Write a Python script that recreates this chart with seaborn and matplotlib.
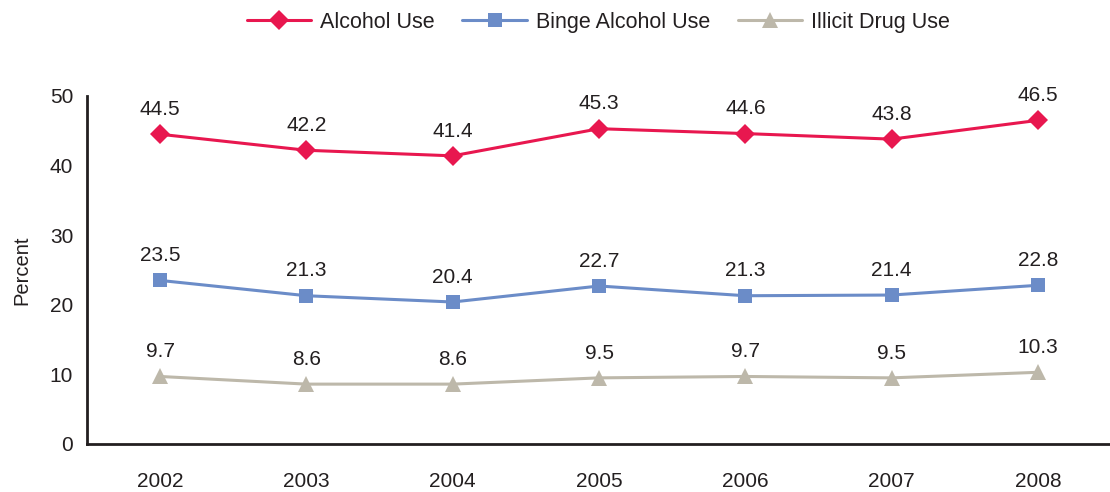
import pandas as pd
import matplotlib.pyplot as plt
import seaborn as sns

# Chart data
years = ['2002', '2003', '2004', '2005', '2006', '2007', '2008']
alcohol = [44.5, 42.2, 41.4, 45.3, 44.6, 43.8, 46.5]
binge = [23.5, 21.3, 20.4, 22.7, 21.3, 21.4, 22.8]
illicit = [9.7, 8.6, 8.6, 9.5, 9.7, 9.5, 10.3]

series = ['Alcohol Use', 'Binge Alcohol Use', 'Illicit Drug Use']
colors = ['#e8174f', '#6b8cc8', '#bdb8aa']
markers = ['D', 's', '^']
msizes = [10, 9.5, 12]

text_color = '#231f20'

df = pd.DataFrame({'year': years, 'Alcohol Use': alcohol,
                   'Binge Alcohol Use': binge, 'Illicit Drug Use': illicit})
df['pos'] = range(len(years))
df_long = df.melt(id_vars=['year', 'pos'], var_name='series', value_name='value')

sns.set_style('white')
plt.rcParams['font.family'] = ['Liberation Sans', 'DejaVu Sans']
plt.rcParams['text.color'] = text_color

fig = plt.figure(figsize=(11.1, 4.92), dpi=100)
ax = fig.add_axes([0.0784, 0.0976, 0.9226, 0.7073])

for name, col, mk, ms in zip(series, colors, markers, msizes):
    sub = df_long[df_long['series'] == name]
    sns.lineplot(data=sub, x='pos', y='value', ax=ax, color=col, marker=mk,
                 markersize=ms, markeredgewidth=0, linewidth=2.2, label=name)
    # value labels above each point
    for p, v in zip(sub['pos'], sub['value']):
        ax.annotate(f'{v:.1f}', (p, v), xytext=(0, 11), textcoords='offset points',
                    ha='center', va='bottom', fontsize=15, color=text_color)

ax.set_xlim(-0.5, len(years) - 0.5)
ax.set_ylim(0, 50)
ax.set_yticks(range(0, 51, 10))
# tick marks between categories, labels centred on categories
ax.set_xticks([p - 0.5 for p in range(len(years) + 1)], minor=False)
ax.set_xticklabels([])
ax.set_xticks(range(len(years)), minor=True)
ax.set_xticklabels(years, minor=True)
ax.tick_params(axis='x', which='major', length=8, width=2, color=text_color, direction='out')
ax.tick_params(axis='x', which='minor', length=0, pad=20, labelsize=15, labelcolor=text_color)
ax.tick_params(axis='y', length=7, width=2, color=text_color, labelsize=15,
               labelcolor=text_color, pad=3)
ax.set_xlabel('')
ax.set_ylabel('Percent', fontsize=14.5, color=text_color, labelpad=13)

for side in ['top', 'right']:
    ax.spines[side].set_visible(False)
for side in ['left', 'bottom']:
    ax.spines[side].set_color(text_color)
    ax.spines[side].set_linewidth(2)

handles, labels = ax.get_legend_handles_labels()
ax.get_legend().remove()
fig.legend(handles, labels, loc='center', bbox_to_anchor=(0.539, 0.955), ncol=3,
           frameon=False, fontsize=15.5, handlelength=3.0, columnspacing=1.3,
           handletextpad=0.4)

fig.savefig('out.png', dpi=100)
